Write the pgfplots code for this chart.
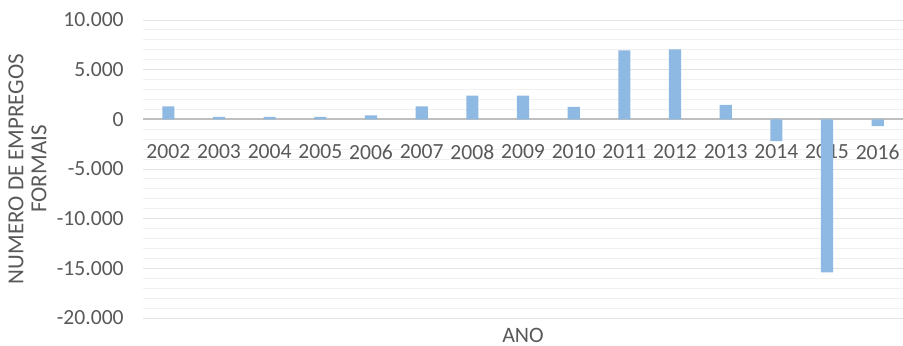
\documentclass[border=0pt]{standalone}
\usepackage{pgfplots}
\pgfplotsset{compat=1.18}
\usepackage{fontspec}
\setmainfont{Carlito}
\definecolor{barblue}{HTML}{8DB9E2}
\definecolor{txtgray}{HTML}{595959}
\begin{document}
\begin{tikzpicture}
\begin{axis}[
  at={(0,0)}, anchor=south west,
  scale only axis, width=380pt, height=149pt,
  xmin=-0.5, xmax=14.5, ymin=-20000, ymax=10000,
  axis x line=middle, axis y line=left,
  x axis line style={-, draw=gray!50, line width=1pt},
  y axis line style={draw=none},
  hide obscured x ticks=false, hide obscured y ticks=false,
  xtick=data,
  xticklabels={2002,2003,2004,2005,2006,2007,2008,2009,2010,2011,2012,2013,2014,2015,2016},
  ytick={-20000,-15000,-10000,-5000,0,5000,10000},
  scaled y ticks=false,
  minor y tick num=4,
  tick style={draw=none},
  ymajorgrids, yminorgrids,
  major grid style={draw=gray!22, line width=0.5pt},
  minor grid style={draw=gray!12, line width=0.5pt},
  ticklabel style={font=\fontsize{10.8}{12}\selectfont, text=txtgray},
  xticklabel style={yshift=-5pt},
  yticklabel style={xshift=-4pt},
  /pgf/number format/.cd, fixed, precision=0, 1000 sep={.}, assume math mode=true,
  /pgfplots/.cd,
  xlabel={ANO},
  xlabel style={at={(axis description cs:0.5,0)}, anchor=north, yshift=-1.5pt, font=\fontsize{11}{12}\selectfont, text=txtgray},
  ylabel={NUMERO DE EMPREGOS\\FORMAIS},
  ylabel style={at={(axis description cs:-0.152,0.5)}, anchor=center, align=center, font=\fontsize{11.5}{11.5}\selectfont, text=txtgray},
  ybar, bar width=0.24,
]
\addplot[fill=barblue, draw=none] coordinates {
(0,1300) (1,250) (2,250) (3,250) (4,400) (5,1300) (6,2400) (7,2400) (8,1250)
(9,6950) (10,7050) (11,1450) (12,-2200) (13,-15400) (14,-680)
};
\end{axis}
\pgfresetboundingbox
\path[use as bounding box] (-71.5pt,-13.5pt) rectangle (380pt,159pt);
\end{tikzpicture}
\end{document}
